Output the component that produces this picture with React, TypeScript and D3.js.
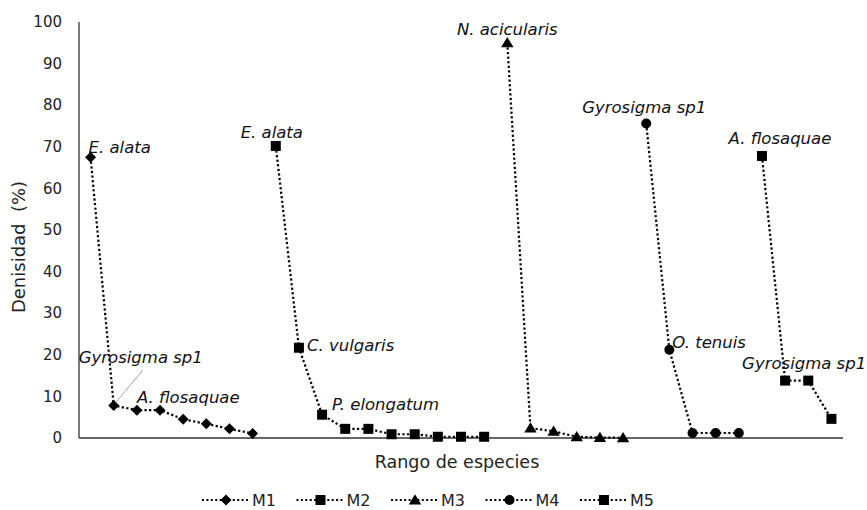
import React, { useRef, useEffect } from "react";
import * as d3 from "d3";

// rank-abundance curves, one block per sampling site
const seriesNames = ["M1", "M2", "M3", "M4", "M5"];
const m1 = [67.5, 7.8, 6.7, 6.7, 4.5, 3.4, 2.2, 1.1];
const m2 = [70.2, 21.7, 5.6, 2.2, 2.2, 0.9, 0.9, 0.3, 0.3, 0.3];
const m3 = [95.0, 2.4, 1.6, 0.3, 0.1, 0.05];
const m4 = [75.6, 21.2, 1.2, 1.2, 1.2];
const m5 = [67.8, 13.8, 13.8, 4.6];
const markers = ["diamond", "square", "triangle", "circle", "square"];

const yTicks = [0, 10, 20, 30, 40, 50, 60, 70, 80, 90, 100];

// species labels: [series, rank, name]
const labels: [number, number, string][] = [
  [0, 0, "E. alata"],
  [0, 1, "Gyrosigma sp1"],
  [0, 2, "A. flosaquae"],
  [1, 0, "E. alata"],
  [1, 1, "C. vulgaris"],
  [1, 2, "P. elongatum"],
  [2, 0, "N. acicularis"],
  [3, 0, "Gyrosigma sp1"],
  [3, 1, "O. tenuis"],
  [4, 0, "A. flosaquae"],
  [4, 1, "Gyrosigma sp1"],
];
// label offsets from the point (anchor, dx, dy)
const labelOffsets: [string, number, number][] = [
  ["start", -2, -10],
  ["start", -35, -48],
  ["start", 0, -13],
  ["middle", -4, -14],
  ["start", 8, -3],
  ["start", 10, -10],
  ["middle", 0, -14],
  ["middle", -2, -16],
  ["start", 3, -8],
  ["middle", 18, -18],
  ["start", -43, -17],
];

const FONT = "'DejaVu Sans', Verdana, sans-serif";

function drawMarker(g: any, type: string, x: number, y: number, s: number) {
  if (type === "circle") {
    g.append("circle").attr("cx", x).attr("cy", y).attr("r", s * 0.5).attr("fill", "#000");
  } else if (type === "square") {
    g.append("rect")
      .attr("x", x - s / 2)
      .attr("y", y - s / 2)
      .attr("width", s)
      .attr("height", s)
      .attr("fill", "#000");
  } else if (type === "diamond") {
    const h = s * 0.55;
    g.append("path")
      .attr("d", `M${x},${y - h}L${x + h},${y}L${x},${y + h}L${x - h},${y}Z`)
      .attr("fill", "#000");
  } else {
    // triangle, a bit wider than the other marks
    const w = s * 0.62;
    g.append("path")
      .attr("d", `M${x},${y - s * 0.58}L${x + w},${y + s * 0.45}L${x - w},${y + s * 0.45}Z`)
      .attr("fill", "#000");
  }
}

const App = () => {
  const ref = useRef<SVGSVGElement>(null);

  useEffect(() => {
    if (!ref.current) return;
    const svg = d3.select(ref.current);
    svg.selectAll("*").remove();

    const all = [m1, m2, m3, m4, m5];
    const total = d3.sum(all, (s) => s.length);

    const x = d3.scaleBand<number>().domain(d3.range(total)).range([79, 843]).padding(0);
    const y = d3.scaleLinear().domain([0, 100]).range([438, 22]);
    const cx = (i: number) => (x(i) as number) + x.bandwidth() / 2;

    // flatten into positioned points
    let offset = 0;
    const pts = all.map((vals) => {
      const p = vals.map((v, k) => ({ i: offset + k, v }));
      offset += vals.length;
      return p;
    });

    // axes
    svg.append("line")
      .attr("x1", 79).attr("x2", 79)
      .attr("y1", y(100)).attr("y2", y(0))
      .attr("stroke", "#333").attr("stroke-width", 1.3);
    svg.append("line")
      .attr("x1", 79).attr("x2", 843)
      .attr("y1", y(0)).attr("y2", y(0))
      .attr("stroke", "#333").attr("stroke-width", 1.3);

    svg.append("g")
      .selectAll("text")
      .data(yTicks)
      .join("text")
      .attr("x", 62)
      .attr("y", (d) => y(d))
      .attr("dy", "0.35em")
      .attr("text-anchor", "end")
      .attr("font-family", FONT)
      .attr("font-size", 15)
      .attr("fill", "#222")
      .text((d) => d);

    svg.append("text")
      .attr("transform", "translate(25,247) rotate(-90)")
      .attr("text-anchor", "middle")
      .attr("font-family", FONT)
      .attr("font-size", 18)
      .attr("fill", "#222")
      .attr("xml:space", "preserve")
      .text("Denisidad  (%)");

    svg.append("text")
      .attr("x", 457)
      .attr("y", 462)
      .attr("dy", "0.35em")
      .attr("text-anchor", "middle")
      .attr("font-family", FONT)
      .attr("font-size", 17.5)
      .attr("fill", "#222")
      .text("Rango de especies");

    const line = d3.line<{ i: number; v: number }>()
      .x((d) => cx(d.i))
      .y((d) => y(d.v));

    pts.forEach((p, s) => {
      svg.append("path")
        .attr("d", line(p))
        .attr("fill", "none")
        .attr("stroke", "#000")
        .attr("stroke-width", 2.2)
        .attr("stroke-dasharray", "2.2 2.4");
      const g = svg.append("g");
      p.forEach((d) => drawMarker(g, markers[s], cx(d.i), y(d.v), 10));
    });

    // leader line for the crowded label
    const lp = pts[0][1];
    svg.append("line")
      .attr("x1", 143).attr("y1", 370)
      .attr("x2", cx(lp.i) + 2).attr("y2", y(lp.v) - 3)
      .attr("stroke", "#a6a6a6").attr("stroke-width", 1);

    labels.forEach(([s, k, name], j) => {
      const [anchor, dx, dy] = labelOffsets[j];
      const d = pts[s][k];
      svg.append("text")
        .attr("x", cx(d.i) + dx)
        .attr("y", y(d.v) + dy)
        .attr("dy", "0.35em")
        .attr("text-anchor", anchor)
        .attr("font-family", FONT)
        .attr("font-style", "italic")
        .attr("font-size", 16.5)
        .attr("fill", "#111")
        .text(name);
    });

    // legend
    const legend = svg.append("g").attr("transform", "translate(202,500)");
    seriesNames.forEach((name, s) => {
      const g = legend.append("g").attr("transform", `translate(${s * 94.5},0)`);
      g.append("line")
        .attr("x1", 0).attr("x2", 46)
        .attr("y1", 0).attr("y2", 0)
        .attr("stroke", "#000")
        .attr("stroke-width", 2)
        .attr("stroke-dasharray", "2 2.4");
      drawMarker(g, markers[s], 24, 0, 10);
      g.append("text")
        .attr("x", 50)
        .attr("y", 0)
        .attr("dy", "0.35em")
        .attr("font-family", FONT)
        .attr("font-size", 16)
        .attr("fill", "#222")
        .text(name);
    });
  }, []);

  return (
    <svg
      ref={ref}
      width={867}
      height={510}
      style={{ position: "absolute", left: 0, top: 0, background: "#fff" }}
    />
  );
};

export default App;
